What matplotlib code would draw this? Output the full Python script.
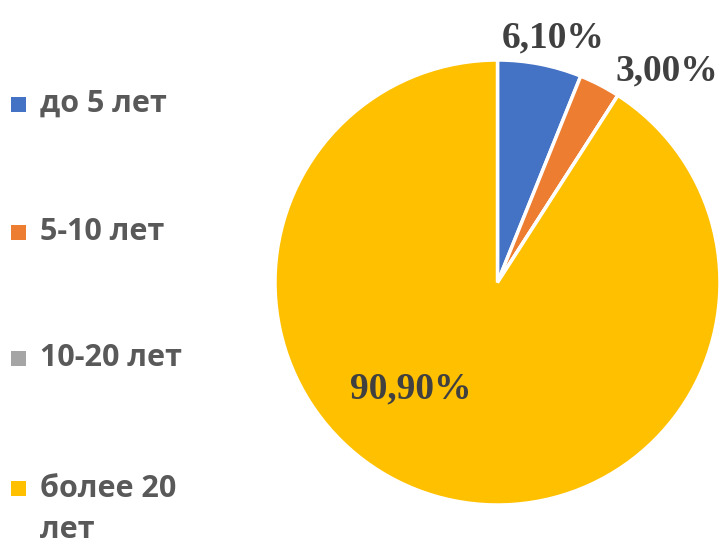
import matplotlib
matplotlib.use("Agg")
import matplotlib.pyplot as plt
from matplotlib.patches import Rectangle

# data
categories = ["до 5 лет", "5-10 лет", "10-20 лет", "более 20\nлет"]
values = [6.1, 3.0, 0.0, 90.9]
value_labels = ["6,10%", "3,00%", "", "90,90%"]
colors = ["#4472C4", "#ED7D31", "#A5A5A5", "#FFC000"]

# where the value labels sit (axes data coords, pie radius = 1)
label_pos = [(0.25, 1.10), (0.76, 0.95), None, (-0.39, -0.48)]


def main():
    fig = plt.figure(figsize=(7.23, 5.47), dpi=100)
    ax = fig.add_axes([275 / 723, 42 / 547, 445 / 723, 445 / 547])

    wedges, _ = ax.pie(values, colors=colors, startangle=90, counterclock=False,
                       radius=1.0,
                       wedgeprops=dict(edgecolor="white", linewidth=2.5))
    ax.set_xlim(-1.0, 1.0)
    ax.set_ylim(-1.0, 1.0)
    ax.set_aspect("equal")
    ax.axis("off")

    for txt, pos in zip(value_labels, label_pos):
        if pos is None:
            continue
        ax.text(pos[0], pos[1], txt, ha="center", va="center",
                fontsize=27, fontweight="bold", color="#404040",
                family="Liberation Serif", clip_on=False)

    # legend, drawn by hand on the left
    legend_y = [104, 232, 358, 488]
    for cat, col, y in zip(categories, colors, legend_y):
        yf = 1 - y / 547
        fig.patches.append(Rectangle((11 / 723, yf - 8 / 547), 15 / 723, 15 / 547,
                                     transform=fig.transFigure, facecolor=col,
                                     edgecolor="none"))
        if "\n" in cat:
            fig.text(40 / 723, yf + 14 / 547, cat, ha="left", va="top",
                     fontsize=22, fontweight="bold", color="#595959",
                     family="Open Sans", linespacing=1.5)
        else:
            fig.text(40 / 723, yf, cat, ha="left", va="center",
                     fontsize=22, fontweight="bold", color="#595959",
                     family="Open Sans")

    fig.savefig("out.png", dpi=100)


if __name__ == "__main__":
    main()
